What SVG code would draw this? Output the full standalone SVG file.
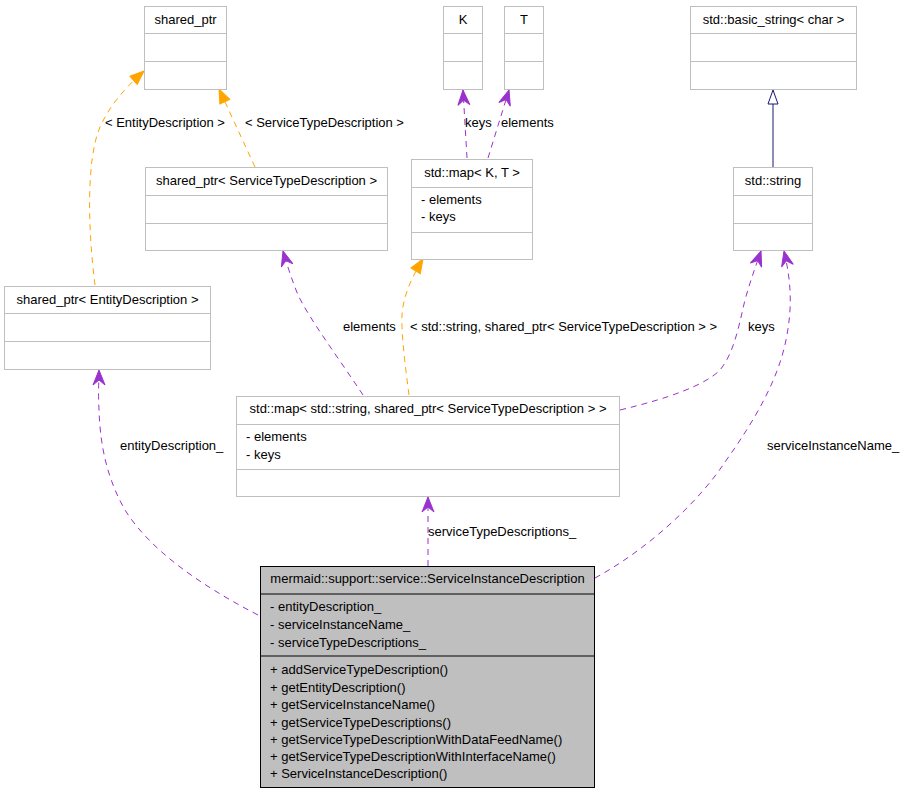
<svg xmlns="http://www.w3.org/2000/svg" width="903" height="795" viewBox="0 0 903 795">
<style>
text{font-family:"Liberation Sans",Arial,Helvetica,sans-serif;font-size:13px;fill:#000}
.c{text-anchor:middle}
.box{fill:#fff;stroke:#bfbfbf;stroke-width:1}
.sep{stroke:#bfbfbf;stroke-width:1}
.main{fill:#bfbfbf;stroke:#000;stroke-width:1}
.msep{stroke:#000;stroke-width:1}
.use{fill:none;stroke:#9a32cd;stroke-width:1;stroke-dasharray:6,5}
.tpl{fill:none;stroke:#ffa500;stroke-width:1;stroke-dasharray:6,5}
.inh{fill:none;stroke:#191970;stroke-width:1}
</style>
<defs>
<marker id="mu" markerUnits="userSpaceOnUse" markerWidth="20" markerHeight="16" refX="0" refY="0" viewBox="-16 -8 18 16" orient="auto" overflow="visible">
<path d="M0,0 L-15,-6 L-10,0 L-15,6 Z" fill="#9a32cd" stroke="#9a32cd" stroke-width="1"/>
</marker>
<marker id="mt" markerUnits="userSpaceOnUse" markerWidth="20" markerHeight="16" refX="0" refY="0" viewBox="-16 -8 18 16" orient="auto" overflow="visible">
<path d="M0,0 L-14,-5.5 L-14,5.5 Z" fill="#ffa500" stroke="#ffa500" stroke-width="1"/>
</marker>
</defs>
<rect width="903" height="795" fill="#fff"/>
<g id="connectors">
<path class="tpl" d="M95,285 C88,230 86,160 100,127 C110,105 125,88 144,71" marker-end="url(#mt)"/>
<path class="tpl" d="M255,167 L219,89" marker-end="url(#mt)"/>
<path class="use" d="M467,158 L463,90" marker-end="url(#mu)"/>
<path class="use" d="M488,158 L509,90" marker-end="url(#mu)"/>
<path class="use" d="M363,395 C340,360 310,320 298,295 C292,280 287,265 283,251" marker-end="url(#mu)"/>
<path class="tpl" d="M409,395 C405,365 401,330 402,315 C403,298 410,280 423,259" marker-end="url(#mt)"/>
<path class="use" d="M620,410 C670,398 705,385 720,370 C735,352 740,320 745,300 C750,282 755,268 761,251" marker-end="url(#mu)"/>
<path class="use" d="M595,578 C650,548 700,500 725,462 C755,420 778,380 786,340 C792,310 792,285 784,251" marker-end="url(#mu)"/>
<path class="use" d="M258,615 C200,585 150,550 125,510 C105,475 100,440 99,410 C98,390 99,380 99,370" marker-end="url(#mu)"/>
<path class="use" d="M428,566 L428,497" marker-end="url(#mu)"/>
<path class="inh" d="M773,167 L773,104"/>
<path d="M773,90 L778,104 L768,104 Z" fill="#fff" stroke="#191970" stroke-width="1"/>
<text x="105" y="127">&lt; EntityDescription &gt;</text>
<text x="245" y="127">&lt; ServiceTypeDescription &gt;</text>
<text x="465" y="127">keys</text>
<text x="501" y="127">elements</text>
<text x="343" y="331">elements</text>
<text x="410" y="331">&lt; std::string, shared_ptr&lt; ServiceTypeDescription &gt; &gt;</text>
<text x="748" y="331">keys</text>
<text x="767" y="450">serviceInstanceName_</text>
<text x="120" y="450">entityDescription_</text>
<text x="428" y="536">serviceTypeDescriptions_</text>
</g>
<g id="shared_ptr">
<rect class="box" x="144.5" y="6.5" width="82" height="83"/>
<line class="sep" x1="144.5" y1="33.5" x2="226.5" y2="33.5"/>
<line class="sep" x1="144.5" y1="61.5" x2="226.5" y2="61.5"/>
<text class="c" x="185.5" y="24">shared_ptr</text>
</g>
<g id="K">
<rect class="box" x="443.5" y="6.5" width="39" height="83"/>
<line class="sep" x1="443.5" y1="33.5" x2="482.5" y2="33.5"/>
<line class="sep" x1="443.5" y1="61.5" x2="482.5" y2="61.5"/>
<text class="c" x="463" y="24">K</text>
</g>
<g id="T">
<rect class="box" x="504.5" y="6.5" width="39" height="83"/>
<line class="sep" x1="504.5" y1="33.5" x2="543.5" y2="33.5"/>
<line class="sep" x1="504.5" y1="61.5" x2="543.5" y2="61.5"/>
<text class="c" x="524" y="24">T</text>
</g>
<g id="basic_string">
<rect class="box" x="690.5" y="6.5" width="166" height="83"/>
<line class="sep" x1="690.5" y1="33.5" x2="856.5" y2="33.5"/>
<line class="sep" x1="690.5" y1="61.5" x2="856.5" y2="61.5"/>
<text class="c" x="773.5" y="24">std::basic_string&lt; char &gt;</text>
</g>
<g id="shared_ptr_std">
<rect class="box" x="145.5" y="167.5" width="242" height="83"/>
<line class="sep" x1="145.5" y1="195.5" x2="387.5" y2="195.5"/>
<line class="sep" x1="145.5" y1="223.5" x2="387.5" y2="223.5"/>
<text class="c" x="266.5" y="185">shared_ptr&lt; ServiceTypeDescription &gt;</text>
</g>
<g id="map_KT">
<rect class="box" x="411.5" y="159.5" width="121" height="100"/>
<line class="sep" x1="411.5" y1="187.5" x2="532.5" y2="187.5"/>
<line class="sep" x1="411.5" y1="232.5" x2="532.5" y2="232.5"/>
<text class="c" x="472" y="177">std::map&lt; K, T &gt;</text>
<text x="421" y="204">- elements</text>
<text x="421" y="221">- keys</text>
</g>
<g id="std_string">
<rect class="box" x="733.5" y="167.5" width="79" height="83"/>
<line class="sep" x1="733.5" y1="195.5" x2="812.5" y2="195.5"/>
<line class="sep" x1="733.5" y1="223.5" x2="812.5" y2="223.5"/>
<text class="c" x="773" y="185">std::string</text>
</g>
<g id="shared_ptr_ed">
<rect class="box" x="4.5" y="286.5" width="206" height="83"/>
<line class="sep" x1="4.5" y1="313.5" x2="210.5" y2="313.5"/>
<line class="sep" x1="4.5" y1="341.5" x2="210.5" y2="341.5"/>
<text class="c" x="107.5" y="304">shared_ptr&lt; EntityDescription &gt;</text>
</g>
<g id="map_string">
<rect class="box" x="236.5" y="396.5" width="383" height="100"/>
<line class="sep" x1="236.5" y1="424.5" x2="619.5" y2="424.5"/>
<line class="sep" x1="236.5" y1="469.5" x2="619.5" y2="469.5"/>
<text class="c" x="428" y="413">std::map&lt; std::string, shared_ptr&lt; ServiceTypeDescription &gt; &gt;</text>
<text x="246" y="441">- elements</text>
<text x="246" y="459">- keys</text>
</g>
<g id="ServiceInstanceDescription">
<rect class="main" x="260.5" y="566.5" width="334" height="221"/>
<line class="msep" x1="260.5" y1="594" x2="594.5" y2="594"/>
<line class="msep" x1="260.5" y1="656" x2="594.5" y2="656"/>
<text class="c" x="427.5" y="583">mermaid::support::service::ServiceInstanceDescription</text>
<text x="270" y="611">- entityDescription_</text>
<text x="270" y="629">- serviceInstanceName_</text>
<text x="270" y="646.5">- serviceTypeDescriptions_</text>
<text x="270" y="674">+ addServiceTypeDescription()</text>
<text x="270" y="691.5">+ getEntityDescription()</text>
<text x="270" y="709">+ getServiceInstanceName()</text>
<text x="270" y="726.5">+ getServiceTypeDescriptions()</text>
<text x="270" y="744">+ getServiceTypeDescriptionWithDataFeedName()</text>
<text x="270" y="761">+ getServiceTypeDescriptionWithInterfaceName()</text>
<text x="270" y="778">+ ServiceInstanceDescription()</text>
</g>
</svg>
